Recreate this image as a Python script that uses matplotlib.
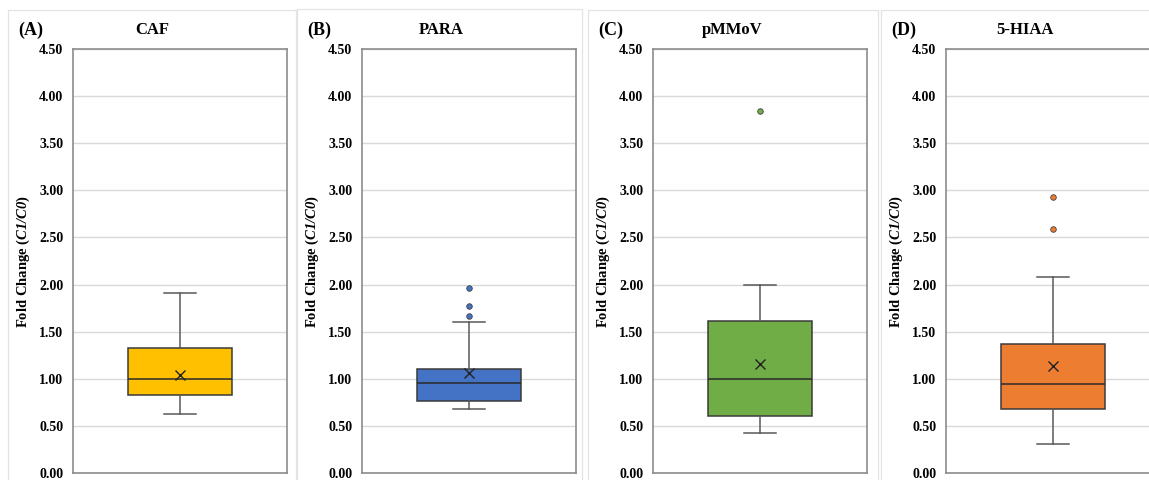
import numpy as np
import matplotlib
matplotlib.use("Agg")
import matplotlib.pyplot as plt
from matplotlib.patches import Rectangle

plt.rcParams['font.family'] = ['Liberation Serif', 'DejaVu Serif']
plt.rcParams['font.weight'] = 'bold'
plt.rcParams['mathtext.fontset'] = 'custom'
plt.rcParams['mathtext.bfit'] = 'Liberation Serif:bold:italic'
plt.rcParams['mathtext.it'] = 'Liberation Serif:italic'

# data
panels = ['(A)', '(B)', '(C)', '(D)']
compounds = ['CAF', 'PARA', 'pMMoV', '5-HIAA']
colors = ['#FFC000', '#4472C4', '#70AD47', '#ED7D31']
whisker_low = [0.63, 0.68, 0.42, 0.31]
q1 = [0.83, 0.76, 0.61, 0.68]
median = [1.00, 0.96, 1.00, 0.94]
q3 = [1.33, 1.10, 1.61, 1.37]
whisker_high = [1.91, 1.60, 2.00, 2.08]
means = [1.04, 1.06, 1.16, 1.14]
outliers = [[], [1.67, 1.77, 1.96], [3.84], [2.59, 2.93]]
yticks = np.arange(0, 4.51, 0.5)

W, H = 1149, 480
fig = plt.figure(figsize=(W / 100, H / 100), dpi=100)

frame_left = [8, 297, 588, 881]
frame_top = [10, 9, 10, 10]
frame_w = [288, 285, 290, 300]

for i in range(4):
    fl = frame_left[i]
    # light panel frame
    fig.add_artist(Rectangle((fl / W, -0.05), frame_w[i] / W, 1.05 - frame_top[i] / H,
                             transform=fig.transFigure, fill=False,
                             edgecolor='#E3E3E3', lw=0.9))
    left, top, bottom, width = fl + 65, 49, 473, 214
    ax = fig.add_axes([left / W, 1 - bottom / H, width / W, (bottom - top) / H])

    stats = [dict(whislo=whisker_low[i], q1=q1[i], med=median[i], q3=q3[i],
                  whishi=whisker_high[i], mean=means[i], fliers=outliers[i])]
    ax.bxp(stats, positions=[1], widths=0.49, patch_artist=True, showmeans=True,
           boxprops=dict(facecolor=colors[i], edgecolor='#3A3A3A', lw=1.1),
           medianprops=dict(color='#2A2A2A', lw=1.1),
           whiskerprops=dict(color='#595959', lw=1.1),
           capprops=dict(color='#595959', lw=1.1),
           capwidths=0.145,
           meanprops=dict(marker='x', markeredgecolor='#222222', markersize=7, mew=1.0),
           flierprops=dict(marker='o', markerfacecolor=colors[i], markeredgecolor='#404040',
                           markersize=4, mew=0.6))
    ax.set_xlim(0.5, 1.5)
    ax.set_ylim(0, 4.5)
    ax.set_yticks(yticks)
    ax.set_yticklabels([f'{v:.2f}' for v in yticks], fontsize=10, fontweight='bold')
    ax.set_xticks([])
    ax.tick_params(axis='y', length=0, pad=7)
    ax.grid(axis='y', color='#D9D9D9', lw=1)
    ax.set_axisbelow(True)
    for s in ax.spines.values():
        s.set_color('#8C8C8C')
        s.set_linewidth(1.2)
    ax.set_ylabel(r'Fold Change ($\mathbfit{C1/C0}$)', fontsize=10.5, fontweight='bold')
    ax.yaxis.set_label_coords(-41 / width, 0.5)

    fig.text((fl + 10) / W, 1 - 30 / H, panels[i], fontsize=13, fontweight='bold',
             ha='left', va='center')
    fig.text((fl + 144) / W, 1 - 30 / H, compounds[i], fontsize=12, fontweight='bold',
             ha='center', va='center')

fig.savefig('out.png', dpi=100)
